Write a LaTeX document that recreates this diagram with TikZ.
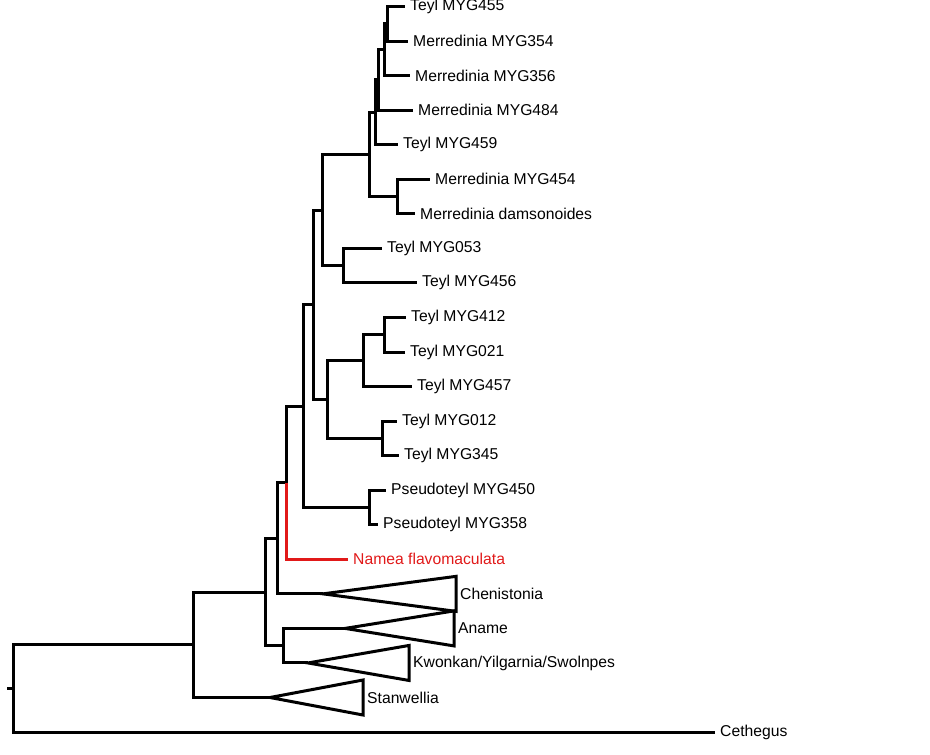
\documentclass[tikz,border=0pt]{standalone}
\usepackage{fontspec}
\setmainfont{Liberation Sans}
\definecolor{nameared}{RGB}{225,25,25}
\tikzset{
  branch/.style={line width=3pt},
  clade/.style={line width=3pt,line join=miter},
  taxon/.style={anchor=west,inner xsep=5pt,inner ysep=0pt,font=\fontsize{15.7}{18}\selectfont}
}

\begin{document}
\begin{tikzpicture}[x=1pt,y=-1pt]
\useasboundingbox (0,0) rectangle (930,755);
% internal nodes
\foreach \n/\x/\y in {r/13/688.5, A/193/644.7, B/265/592, C/277/538.3, D/283/645.6,
  E/286/482.7, F/303/406.1, Ps/369/507.5, G/313/304.8, I/327/399.5, J/363/360.6,
  L/384/334.7, K/382/438.4, H/322/210, N/343/265.6, M/369/154.4, Q/397/196.5,
  P4/375/112.3, P3/378/79.9, P2/384/49.7, P1/387/23.8}{
\coordinate (\n) at (\x,\y);
}
\coordinate (stub) at (7,688.5);
% tips
\foreach \n/\x/\i/\t in {t455/405/0/Teyl MYG455, m354/408/1/Merredinia MYG354,
  m356/410/2/Merredinia MYG356, m484/413/3/Merredinia MYG484, t459/398/4/Teyl MYG459,
  m454/430/5/Merredinia MYG454, mdam/415/6/Merredinia damsonoides, t053/382/7/Teyl MYG053,
  t456/417/8/Teyl MYG456, t412/406/9/Teyl MYG412, t021/405/10/Teyl MYG021,
  t457/412/11/Teyl MYG457, t012/397/12/Teyl MYG012, t345/399/13/Teyl MYG345,
  p450/386/14/Pseudoteyl MYG450, p358/378/15/Pseudoteyl MYG358, ceth/715/21/Cethegus}{
\coordinate (\n) at (\x,6.5+34.55*\i);
\node[taxon] (\n-l) at (\n) {\t};
}
\coordinate (namea) at (348,6.5+34.55*16);
\node[taxon,text=nameared] (namea-l) at (namea) {Namea flavomaculata};
% collapsed clades
\foreach \n/\ax/\rx/\i in {chen/323/456/17, aname/345/454/18, kwon/308/409/19, stan/270/363/20}{
\coordinate (\n) at (\ax,6.5+34.55*\i);
\coordinate (\n-e) at (\rx,6.5+34.55*\i);
\draw[clade] (\n) -- ([yshift=-17.5pt]\n-e) -- ([yshift=17.5pt]\n-e) -- cycle;
}
\node[taxon,inner xsep=4pt] (chen-l) at (chen-e) {Chenistonia};
\node[taxon,inner xsep=4pt] (aname-l) at (aname-e) {Aname};
\node[taxon,inner xsep=4pt] (kwon-l) at (kwon-e) {Kwonkan/Yilgarnia/Swolnpes};
\node[taxon,inner xsep=4pt] (stan-l) at (stan-e) {Stanwellia};
% branches
\foreach \p/\c in {r/A, r/ceth, A/B, A/stan, B/C, B/D, D/aname, D/kwon, C/E, C/chen,
  E/F, F/G, F/Ps, Ps/p450, Ps/p358, G/H, G/I, I/J, I/K, J/L, J/t457, L/t412, L/t021,
  K/t012, K/t345, H/M, H/N, N/t053, N/t456, M/P4, M/Q, Q/m454, Q/mdam, P4/P3, P4/t459,
  P3/P2, P3/m484, P2/P1, P2/m356, P1/t455, P1/m354}{
\draw[branch] (\p) |- (\c);
}
\draw[branch,nameared] (E) |- (namea);
\draw[branch] (stub) -- (r);
\end{tikzpicture}
\end{document}
